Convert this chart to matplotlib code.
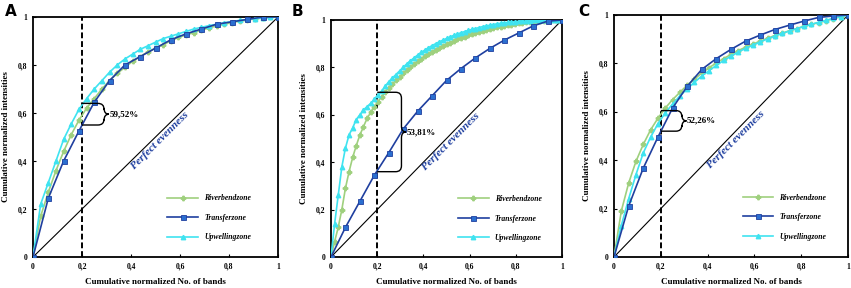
import numpy as np
import matplotlib
matplotlib.use("Agg")
from matplotlib import pyplot as plt
from matplotlib.path import Path
from matplotlib.patches import PathPatch
from matplotlib.ticker import FuncFormatter

# cumulative normalized intensities
# transfer zone: 16 bands, riverbend/upwelling: 32 bands (A, C), 64 bands (B)
a_transfer = [0, 0.245, 0.40, 0.525, 0.645, 0.735, 0.80, 0.835, 0.87, 0.905, 0.93, 0.95, 0.97,
              0.98, 0.99, 1.0, 1.0]
a_riverbend = [0, 0.17, 0.27, 0.36, 0.44, 0.51, 0.57, 0.62, 0.66, 0.70, 0.735, 0.765, 0.79, 0.815,
               0.835, 0.855, 0.87, 0.885, 0.90, 0.915, 0.925, 0.935, 0.945, 0.955, 0.963, 0.97,
               0.977, 0.983, 0.988, 0.992, 0.996, 0.998, 1.0]
a_upwelling = [0, 0.22, 0.31, 0.40, 0.49, 0.555, 0.615, 0.66, 0.70, 0.735, 0.77, 0.80, 0.825, 0.845,
               0.865, 0.88, 0.895, 0.91, 0.92, 0.93, 0.94, 0.95, 0.957, 0.964, 0.97, 0.976, 0.981,
               0.986, 0.99, 0.993, 0.996, 0.998, 1.0]

b_transfer = [0, 0.125, 0.235, 0.345, 0.44, 0.54, 0.615, 0.68, 0.745, 0.795, 0.84, 0.88, 0.915,
              0.945, 0.975, 0.995, 1.0]
b_riverbend = [0, 0.065, 0.125, 0.20, 0.29, 0.36, 0.42, 0.47, 0.515, 0.55, 0.585, 0.61, 0.635,
               0.655, 0.675, 0.695, 0.715, 0.73, 0.745, 0.76, 0.775, 0.79, 0.80, 0.813, 0.826,
               0.837, 0.847, 0.857, 0.866, 0.875, 0.883, 0.891, 0.898, 0.905, 0.912, 0.918, 0.924,
               0.93, 0.935, 0.94, 0.945, 0.95, 0.954, 0.958, 0.962, 0.966, 0.969, 0.972, 0.975,
               0.978, 0.981, 0.983, 0.986, 0.988, 0.99, 0.992, 0.993, 0.995, 0.996, 0.997, 0.998,
               0.999, 1.0, 1.0, 1.0]
b_upwelling = [0, 0.14, 0.26, 0.38, 0.46, 0.515, 0.545, 0.58, 0.60, 0.62, 0.635, 0.648, 0.665,
               0.685, 0.70, 0.72, 0.74, 0.755, 0.77, 0.785, 0.80, 0.815, 0.828, 0.84, 0.852,
               0.863, 0.873, 0.883, 0.892, 0.90, 0.908, 0.915, 0.922, 0.929, 0.935, 0.941, 0.946,
               0.951, 0.956, 0.96, 0.964, 0.968, 0.972, 0.975, 0.978, 0.981, 0.984, 0.986, 0.988,
               0.99, 0.992, 0.993, 0.994, 0.995, 0.996, 0.997, 0.998, 0.998, 0.999, 0.999, 1.0,
               1.0, 1.0, 1.0, 1.0]

c_transfer = [0, 0.21, 0.367, 0.495, 0.615, 0.705, 0.775, 0.82, 0.858, 0.892, 0.917, 0.94, 0.958,
              0.975, 0.99, 0.996, 1.0]
c_riverbend = [0, 0.19, 0.305, 0.395, 0.465, 0.525, 0.573, 0.615, 0.65, 0.68, 0.71, 0.735, 0.76,
               0.782, 0.802, 0.82, 0.837, 0.853, 0.867, 0.88, 0.892, 0.904, 0.915, 0.925, 0.935,
               0.944, 0.953, 0.961, 0.969, 0.977, 0.985, 0.993, 1.0]
c_upwelling = [0, 0.13, 0.24, 0.34, 0.43, 0.495, 0.55, 0.595, 0.632, 0.665, 0.695, 0.722, 0.748,
               0.77, 0.792, 0.812, 0.83, 0.847, 0.862, 0.876, 0.889, 0.901, 0.913, 0.924, 0.934,
               0.944, 0.953, 0.962, 0.97, 0.978, 0.986, 0.993, 1.0]

panels = ["A", "B", "C"]
percents = ["59,52%", "53,81%", "52,26%"]
# bracket: bottom, top of the brace at x = 0.2
brackets = [(0.55, 0.64), (0.36, 0.695), (0.52, 0.605)]
series_names = ["Riverbendzone", "Transferzone", "Upwellingzone"]

c_river = "#9fd07e"
c_trans = "#1f3f9f"
c_trans_face = "#2b6fd0"
c_up = "#3fe3f0"
c_text = "#1f3f9f"

serif = ["Liberation Serif", "DejaVu Serif"]

fig = plt.figure(figsize=(8.51, 2.88), dpi=100)
boxes = [[33, 278, 17], [331, 562, 20], [614, 848, 15]]
letter_x = [5, 292, 578]


def brace(ax, bot, top, xv, tip):
    r = 0.025
    mid = (bot + top) / 2
    verts = [(0.2, top), (xv - r, top), (xv, top), (xv, top - r),
             (xv, mid + r), (xv, mid), (tip, mid),
             (xv, mid), (xv, mid - r),
             (xv, bot + r), (xv, bot), (xv - r, bot), (0.2, bot)]
    codes = [Path.MOVETO, Path.LINETO, Path.CURVE3, Path.CURVE3,
             Path.LINETO, Path.CURVE3, Path.CURVE3,
             Path.CURVE3, Path.CURVE3,
             Path.LINETO, Path.CURVE3, Path.CURVE3, Path.LINETO]
    ax.add_patch(PathPatch(Path(verts, codes), fill=False, lw=1.0, color="black", zorder=6))


data = [(a_riverbend, a_transfer, a_upwelling),
        (b_riverbend, b_transfer, b_upwelling),
        (c_riverbend, c_transfer, c_upwelling)]
brace_x = [0.29, 0.305, 0.29]

for i, (river, trans, up) in enumerate(data):
    left, right, top = boxes[i]
    ax = fig.add_axes([left / 851, 31 / 288, (right - left) / 851, (257 - top) / 288])

    x_r = np.arange(len(river)) / (len(river) - 1)
    x_t = np.arange(len(trans)) / (len(trans) - 1)
    x_u = np.arange(len(up)) / (len(up) - 1)

    ax.plot([0, 1], [0, 1], color="black", lw=0.8, zorder=2)
    ax.axvline(0.2, color="black", lw=1.4, ls=(0, (3, 1.5)), zorder=3)

    ax.plot(x_r, river, color=c_river, lw=1.2, marker="P", ms=3.2, mfc=c_river, mec=c_river,
            label=series_names[0], zorder=4)
    ax.plot(x_t, trans, color=c_trans, lw=1.2, marker="s", ms=3.6, mfc=c_trans_face, mec=c_trans,
            mew=0.6, label=series_names[1], zorder=5)
    ax.plot(x_u, up, color=c_up, lw=1.2, marker="^", ms=3.2, mfc=c_up, mec=c_up,
            label=series_names[2], zorder=4)

    bot, topb = brackets[i]
    brace(ax, bot, topb, brace_x[i], brace_x[i] + 0.02)
    ax.text(brace_x[i] + 0.022, (bot + topb) / 2, percents[i], fontsize=6.5, fontweight="bold",
            family=serif, va="center", ha="left", zorder=7)

    ax.text(0.52, 0.485, "Perfect evenness", rotation=45, fontsize=8, fontweight="bold",
            fontstyle="italic", family=serif, color=c_text, ha="center", va="center")

    ax.set_xlim(0, 1)
    ax.set_ylim(0, 1)
    ax.set_xticks([0, 0.2, 0.4, 0.6, 0.8, 1])
    ax.set_yticks([0, 0.2, 0.4, 0.6, 0.8, 1])
    fmt = FuncFormatter(lambda v, p: ("%g" % v).replace(".", ","))
    ax.xaxis.set_major_formatter(fmt)
    ax.yaxis.set_major_formatter(fmt)
    ax.tick_params(direction="in", length=2, width=0.8, labelsize=5.5, pad=4)
    for lab in ax.get_xticklabels() + ax.get_yticklabels():
        lab.set_fontweight("bold")
        lab.set_family(serif)
    for s in ax.spines.values():
        s.set_linewidth(1.3)

    ax.set_xlabel("Cumulative normalized No. of bands", fontsize=6.5, fontweight="bold",
                  family=serif, labelpad=5)
    ax.set_ylabel("Cumulative normalized intensities", fontsize=6.5, fontweight="bold",
                  family=serif, labelpad=6)

    leg = ax.legend(loc="upper left", bbox_to_anchor=(0.52, 0.29), frameon=False,
                    handlelength=4, labelspacing=1.5, handletextpad=0.8,
                    prop={"family": serif, "size": 5.5, "weight": "bold", "style": "italic"})

    fig.text(letter_x[i] / 851, 1 - 12 / 288, panels[i], fontsize=11, fontweight="bold",
             family="DejaVu Sans", va="center", ha="left")

fig.savefig("out.png", dpi=100)
